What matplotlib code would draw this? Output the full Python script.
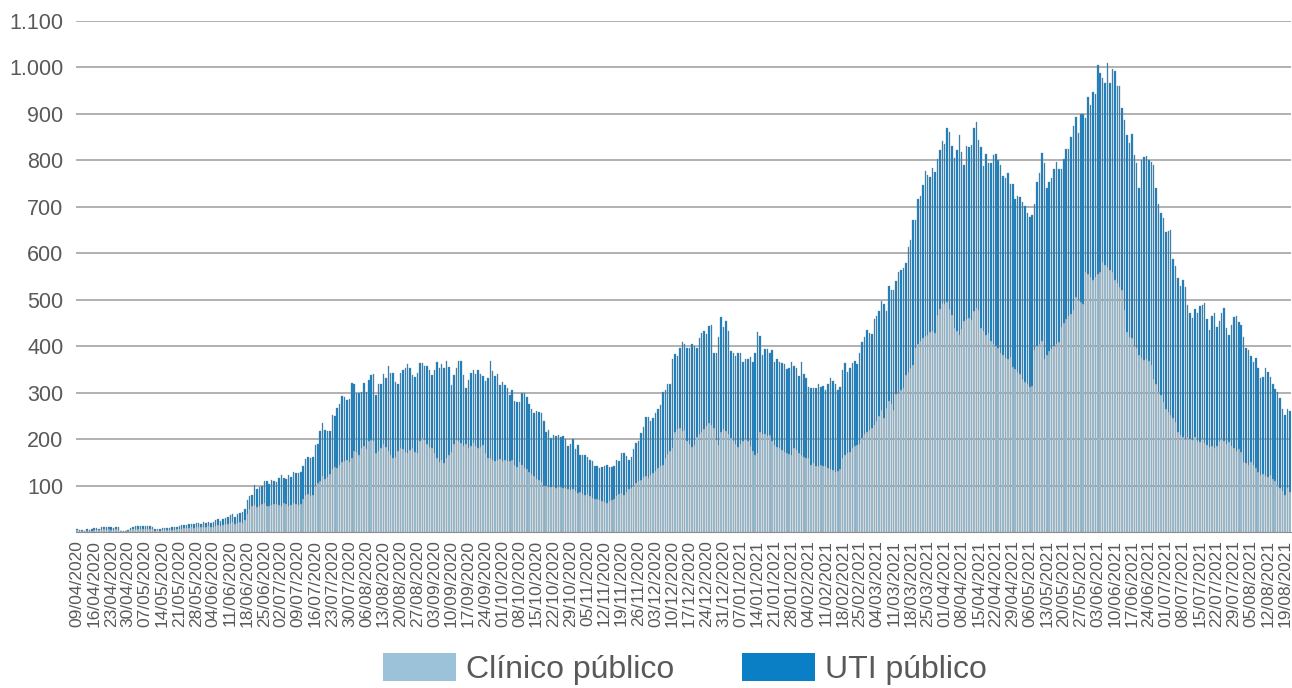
import matplotlib
matplotlib.use("Agg")
import matplotlib.pyplot as plt
import numpy as np
import pandas as pd
from matplotlib.ticker import FuncFormatter, FixedLocator
from matplotlib.patches import Patch

start_date = "2020-04-09"

# Top of the stacked bar (Clínico + UTI) per day
total = [
    7, 5, 4, 3, 6, 5, 6,
    8, 9, 7, 10, 11, 10, 11,
    10, 9, 11, 10, 3, 2, 3,
    4, 9, 11, 12, 13, 12, 13,
    13, 12, 13, 11, 6, 7, 6,
    8, 9, 8, 9, 10, 10, 11,
    12, 14, 15, 16, 17, 18, 17,
    19, 20, 18, 21, 19, 22, 20,
    21, 25, 27, 24, 28, 31, 33,
    36, 39, 33, 38, 40,
    42, 49, 68, 78, 80, 101, 92, 96, 98, 109, 109, 104, 112, 110, 108, 116, 122, 117, 114, 122,
    119, 129, 127, 128, 129, 141, 157, 162, 159, 161, 187, 189, 218, 235, 219, 218, 218, 252, 249, 268,
    276, 292, 290, 285, 287, 321, 319, 299, 299, 302, 320, 301, 327,
    338, 340, 295, 318, 319, 340, 331, 358, 343, 343, 322, 319, 343, 349, 353, 362, 353, 338, 333, 343,
    363, 363, 358, 358, 349, 337, 349, 365, 353, 362, 353, 368, 356, 317, 337, 353, 368, 368, 338, 310,
    328, 342, 349, 340, 348, 340, 335, 325, 331, 368, 346, 335, 340, 317, 322, 317, 310, 295,
    306, 282, 280, 280, 299, 299, 290, 276, 265, 256, 261, 258, 256, 239, 216, 219, 202, 209, 206, 208,
    204, 206, 200, 186, 189, 200, 178, 188, 166, 166, 166, 161, 156, 152, 143, 143, 138, 140, 143, 145,
    140, 140, 143, 156, 152, 170, 170, 163, 156, 161, 179, 191, 195,
    213, 225, 247, 247, 239, 245, 256, 265, 274, 301, 306, 318, 319, 373, 384, 379, 396, 410, 404, 397,
    397, 405, 401, 397, 417, 428, 432, 426, 444, 446, 386, 386, 419, 462, 442, 454, 433, 389, 385, 378,
    385, 385, 366, 373, 373, 376, 366, 385, 430, 421, 380, 394, 394, 385,
    391, 366, 373, 365, 363, 361, 351, 352, 367, 358, 354, 335, 365, 341, 332, 312, 310, 311, 310, 318,
    312, 315, 306, 318, 332, 326, 318, 306, 313, 348, 363, 344, 352, 363, 369, 361, 385, 409, 419, 434,
    428, 426, 459, 465,
    475, 498, 490, 475, 529, 520, 522, 540, 560, 563, 568, 578, 614, 629, 672, 672, 717, 723, 748, 778,
    769, 765, 784, 775, 803, 823, 842, 835, 870, 860, 830, 806, 823, 855, 819, 789, 830, 828, 833, 870,
    882, 844, 829, 787, 814, 794, 794, 811, 813, 801, 791, 766, 763, 772, 749,
    750, 717, 723, 722, 711, 702, 687, 678, 683, 707, 754, 772, 815, 795, 740, 754, 763, 781, 796, 781,
    781, 803, 824, 824, 851, 873, 894, 858, 899, 899, 891, 936, 919, 948, 942, 1006, 989, 977, 966, 1010,
    966, 997, 993, 960, 960, 912, 887,
    855, 837, 856, 811, 794, 740, 800, 807, 809, 800, 797, 791, 741, 705, 687, 675, 645, 649, 650, 588,
    572, 547, 529, 542, 527, 489, 471, 460, 481, 471, 487, 489, 494, 458, 435, 465, 471, 441, 455, 471,
    483, 440, 423, 446, 463, 466, 453, 446, 419, 397, 392, 379, 365, 374, 354, 332, 334, 353, 344, 334,
    318, 308, 301, 288, 265, 252, 265, 260,
]

# Clínico público per day
clinico = [
    4, 3, 2, 2, 3, 3, 3,
    4, 5, 4, 5, 6, 5, 6,
    5, 5, 6, 5, 2, 1, 2,
    2, 5, 6, 7, 7, 6, 7,
    7, 6, 7, 6, 3, 4, 3,
    4, 5, 4, 5, 5, 5, 6,
    6, 7, 8, 8, 9, 10, 9,
    10, 11, 10, 11, 10, 12, 11,
    11, 13, 14, 13, 15, 17, 18,
    19, 21, 18, 20, 22,
    20, 25, 38, 50, 55,
    58, 54, 57, 60, 62, 57, 55, 58, 60, 61, 58, 57, 62, 60, 56, 59, 63, 61, 58, 60,
    70, 80, 82, 78, 80,
    100, 105, 110, 120, 115, 118,
    125, 135, 140, 138, 145, 150,
    152, 155, 150, 160,
    175, 172, 165, 180, 185, 178, 195,
    199, 195, 170, 175, 180, 190,
    184, 175, 165, 159, 162,
    175, 180, 178, 172, 170, 176, 180, 172, 170,
    195, 202, 198, 190, 182,
    180, 170, 160, 150, 155, 148, 160, 165,
    172, 190, 199, 195, 192, 185, 190, 180,
    185, 191, 186, 180, 184, 188,
    170, 159, 160, 155, 152, 155, 158, 152, 155, 153, 152,
    155, 145, 140, 150, 145, 138,
    135, 130, 125, 120, 115, 112,
    108, 100, 98, 97, 96, 98, 95, 97, 96, 94,
    95, 92, 90, 93, 88, 85, 87, 82, 80, 82,
    77, 74, 72, 70, 68, 66, 64, 63, 66, 68,
    72, 77, 82, 85, 80, 87,
    92, 95, 100, 105, 109,
    112, 118, 120, 116, 122,
    127, 132, 138, 142, 145,
    160, 168, 175, 181,
    216, 222, 224, 218, 220,
    195, 190, 184, 188,
    205, 210, 216, 222, 228, 234, 230,
    224, 198, 188, 215, 222, 218, 210,
    202, 195, 190, 184, 190, 196, 200,
    195, 185, 175, 166, 170,
    216, 210, 212, 206, 208,
    195, 188, 184, 181,
    177, 172, 170, 168, 166,
    181, 176, 170, 165, 162, 160, 159,
    145, 148, 143, 141, 144, 142, 141,
    138, 135, 133, 130, 132, 135,
    159, 165, 170, 173,
    181, 185, 188, 190,
    202, 210, 215, 220, 224,
    231, 240,
    250, 262, 245,
    268, 282, 275, 262,
    296, 300, 305, 310,
    339, 345, 352, 360,
    396, 405, 411,
    418, 422, 425, 430, 432, 428,
    468, 480, 493, 490,
    495, 480, 468,
    440, 432, 425, 438,
    454, 458, 461, 456,
    475, 482, 478,
    440, 432, 425, 428,
    411, 405, 400, 396,
    385, 380, 375, 372, 376,
    355, 350, 345, 340,
    329, 322, 318, 312, 315,
    391, 400, 405, 412,
    373, 380, 390, 395, 400, 405, 409,
    441, 450, 458, 465, 470, 477,
    506, 500, 495, 491,
    560, 555, 548, 542, 550, 556, 560,
    581, 575, 570, 565, 560,
    542, 535, 528, 520, 477,
    430, 420, 417, 400, 396, 380, 374, 370, 372, 368,
    360, 330, 318, 302, 295, 280, 265, 259, 252, 245,
    237, 215, 209, 205, 201, 205, 200, 198, 205, 196,
    194, 200, 192, 187, 182, 186, 180, 185, 195, 201,
    196, 190, 194, 186, 180, 175, 178, 173, 151, 148,
    144, 150, 144, 138, 130, 122, 125, 120, 118, 122,
    115, 110, 101, 95, 88, 79, 95, 86,
]

series_names = ["Clínico público", "UTI público"]
y_ticks = [100, 200, 300, 400, 500, 600, 700, 800, 900, 1000, 1100]

n = min(len(total), len(clinico))
total_a = np.array(total[:n], dtype=float)
clin_a = np.array(clinico[:n], dtype=float)
uti_a = np.clip(total_a - clin_a, 0, None)
dates = pd.date_range(start_date, periods=n, freq="D")
x = np.arange(n)

light = "#9CC2DA"
dark = "#0A7FC6"
edge = "#7F8A94"
text_col = "#595959"
fam = ["Liberation Sans", "DejaVu Sans"]

fig = plt.figure(figsize=(12.92, 6.88), dpi=100)
ax = fig.add_axes([76 / 1292, 156 / 688, 1215 / 1292, 511 / 688])

ax.bar(x, clin_a, width=0.62, color=light, edgecolor=edge, linewidth=0.25, zorder=2)
ax.bar(x, uti_a, bottom=clin_a, width=0.62, color=dark, edgecolor=edge, linewidth=0.25, zorder=2)

ax.set_xlim(-0.5, n - 0.5)
ax.set_ylim(0, 1100)
ax.yaxis.set_major_locator(FixedLocator(y_ticks))
ax.yaxis.set_major_formatter(FuncFormatter(lambda v, p: f"{int(v):,}".replace(",", ".")))
ax.grid(axis="y", color="#ABABAB", linewidth=1.3, zorder=0)
ax.set_axisbelow(True)

tick_pos = x[::7]
ax.set_xticks(tick_pos)
ax.set_xticklabels([d.strftime("%d/%m/%Y") for d in dates[::7]], rotation=90,
                   fontsize=12.5, color=text_col, family=fam)
ax.tick_params(axis="x", length=0, pad=6)
ax.tick_params(axis="y", length=0, pad=9, labelsize=15.5, labelcolor=text_col)
for lab in ax.get_yticklabels():
    lab.set_family(fam)

for s in ["top", "right", "left"]:
    ax.spines[s].set_visible(False)
ax.spines["bottom"].set_color("#8C8C8C")
ax.spines["bottom"].set_linewidth(0.8)

handles = [Patch(facecolor=light, edgecolor="none"), Patch(facecolor=dark, edgecolor="none")]
fig.legend(handles, series_names, loc="center", bbox_to_anchor=(685 / 1292, 1 - 669 / 688),
           ncol=2, frameon=False, handlelength=2.28, handleheight=1.0, handletextpad=0.33,
           columnspacing=2.1, prop={"family": fam, "size": 23},
           labelcolor=text_col)

fig.savefig("out.png", dpi=100)
